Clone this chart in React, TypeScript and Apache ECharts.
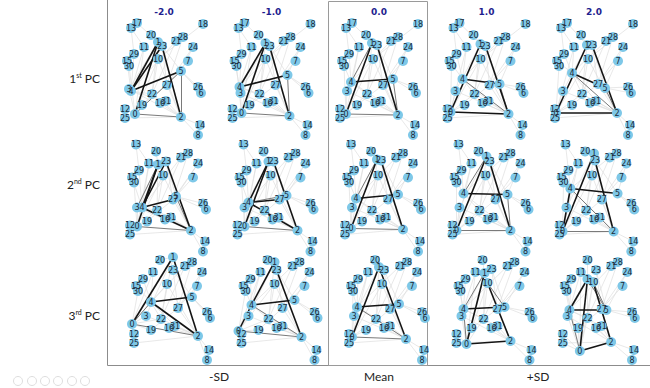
import React, { useEffect, useRef } from "react";
import * as echarts from "echarts";

// ---- data ----
const colTitles = ["-2.0", "-1.0", "0.0", "1.0", "2.0"];
const rowLabels = [["1", "st"], ["2", "nd"], ["3", "rd"]];
const bottomLabels = ["-SD", "Mean", "+SD"];

const nodeIds = [0, 1, 2, 3, 4, 5, 6, 7, 8, 10, 11, 12, 13, 14, 15, 16, 17, 18, 19, 20, 21, 22, 23, 24, 25, 26, 27, 28, 29, 30, 31];
const baseX = [28, 51, 74, 24, 24, 74, 94, 81, 91, 51, 37, 18, 24, 93, 20, 53, 30, 96, 35, 44, 69, 45, 55, 86, 18, 91, 60, 76, 27, 22, 59];
const baseY = [114, 42, 117, 91, 91, 71, 93, 61, 135, 59, 47, 109, 28, 125, 61, 103, 23, 24, 105, 35, 41, 94, 46, 47, 118, 87, 85, 37, 54, 66, 101];

// per panel (row-major): [node, x, y] for nodes that move
const panelMoves = [
  [[0, 28, 114], [1, 51, 42], [2, 74, 117], [3, 22, 89], [4, 24, 91], [5, 74, 71], [23, 55, 46], [27, 60, 85]],
  [[0, 27, 113], [1, 51, 43], [2, 75, 116], [3, 26, 93], [4, 25, 87], [5, 73, 75], [23, 55, 46], [27, 61, 85]],
  [[0, 24, 114], [1, 50, 43], [2, 76, 115], [3, 25, 91], [4, 29, 82], [5, 71, 79], [23, 55, 45], [27, 61, 85]],
  [[0, 21, 112], [1, 51, 44], [2, 79, 114], [3, 26, 91], [4, 33, 79], [5, 70, 84], [23, 56, 46], [27, 60, 85]],
  [[0, 19, 113], [1, 50, 45], [2, 80, 113], [3, 26, 91], [4, 35, 73], [5, 68, 88], [23, 55, 45], [27, 61, 84]],
  [[0, 25, 110], [1, 46, 48], [2, 79, 114], [3, 25, 91], [4, 30, 91], [5, 64, 80], [23, 54, 45], [27, 61, 83]],
  [[0, 25, 110], [1, 49, 45], [2, 78, 114], [3, 25, 91], [4, 29, 86], [5, 67, 79], [23, 54, 45], [27, 60, 83]],
  [[0, 24, 112], [1, 50, 43], [2, 76, 113], [3, 25, 91], [4, 29, 82], [5, 71, 78], [23, 54, 44], [27, 61, 83]],
  [[0, 22, 114], [1, 52, 40], [2, 76, 114], [3, 25, 91], [4, 29, 77], [5, 73, 78], [23, 55, 45], [27, 61, 83]],
  [[0, 21, 115], [1, 53, 37], [2, 73, 115], [3, 25, 91], [4, 29, 72], [5, 77, 77], [23, 54, 44], [27, 61, 83]],
  [[0, 16, 99], [1, 57, 32], [2, 82, 111], [3, 30, 91], [4, 35, 77], [5, 76, 72], [23, 57, 45], [27, 62, 83]],
  [[0, 15, 106], [1, 51, 37], [2, 78, 112], [3, 25, 91], [4, 28, 80], [5, 71, 75], [23, 53, 45], [27, 59, 83]],
  [[0, 21, 112], [1, 48, 42], [2, 75, 114], [3, 23, 91], [4, 26, 82], [5, 68, 79], [23, 53, 45], [27, 59, 84]],
  [[0, 28, 119], [1, 46, 48], [2, 72, 116], [3, 23, 91], [4, 25, 84], [5, 66, 82], [23, 53, 44], [27, 59, 84], [19, 33, 103], [10, 49, 58]],
  [[0, 36, 126], [1, 44, 54], [2, 69, 117], [3, 23, 91], [4, 25, 85], [5, 64, 85], [23, 53, 45], [27, 59, 84], [10, 50, 57], [22, 44, 93], [19, 34, 103]],
];

const lightEdges = [
  [13, 11], [13, 29], [17, 1], [18, 10], [20, 1], [21, 4], [28, 27], [24, 5], [11, 4], [11, 0], [29, 4], [15, 4],
  [30, 0], [10, 22], [10, 2], [7, 27], [23, 5], [23, 27], [1, 3], [4, 22], [4, 31], [3, 0], [12, 0], [25, 0],
  [25, 2], [19, 0], [19, 27], [22, 2], [16, 2], [31, 2], [27, 2], [5, 26], [5, 6], [2, 14], [2, 8], [22, 0],
  [10, 0], [21, 22], [24, 27], [3, 2], [1, 22],
];

const greyEdges = [
  [[0, 5], [0, 2], [5, 2]],
  [[0, 2], [5, 2]],
  [[1, 4], [0, 2], [5, 2]],
  [[4, 2], [5, 2]],
  [[4, 2], [5, 2]],
  [[0, 2], [1, 3], [5, 2]],
  [[0, 2], [4, 5]],
  [[1, 4], [0, 2]],
  [[1, 4], [0, 2], [5, 2]],
  [[4, 2], [0, 2]],
  [[0, 4], [0, 2]],
  [[4, 2], [0, 2]],
  [[0, 2], [4, 2]],
  [[1, 4], [4, 0], [10, 5]],
  [[4, 0], [1, 5], [10, 5]],
];

const blackEdges = [
  [[1, 4], [23, 4], [1, 0], [23, 2], [4, 5]],
  [[1, 4], [1, 0], [23, 2], [4, 5]],
  [[1, 0], [23, 2], [4, 5]],
  [[1, 0], [23, 2], [4, 5], [0, 2]],
  [[1, 0], [23, 2], [4, 5], [0, 2]],
  [[1, 4], [23, 4], [1, 0], [23, 2], [4, 27], [4, 2]],
  [[1, 4], [1, 0], [23, 2], [4, 27], [4, 2]],
  [[1, 0], [23, 2], [4, 5]],
  [[1, 0], [23, 2], [4, 5]],
  [[1, 0], [23, 2], [4, 5], [4, 0]],
  [[1, 0], [1, 2], [4, 5], [4, 2]],
  [[1, 4], [4, 0], [23, 2], [4, 5]],
  [[1, 0], [1, 2], [4, 5]],
  [[1, 0], [10, 2], [4, 5], [0, 2]],
  [[1, 0], [10, 2], [4, 5], [1, 4], [0, 2]],
];

// ---- layout ----
const rowOriginX = [107, 112, 116];
const rowOriginY = [0, 116.5, 225];
const colStep = 107.5;
const clipTop = [0, 25.5, 31];
const clipBottom = [142, 139.5, 140];

export default function App() {
  const ref = useRef<HTMLDivElement>(null);
  useEffect(() => {
    if (!ref.current) return;
    const chart = echarts.init(ref.current, undefined, { renderer: "svg" });
    const grids: any[] = [];
    const xAxes: any[] = [];
    const yAxes: any[] = [];
    const series: any[] = [];
    for (let r = 0; r < 3; r++) {
      for (let c = 0; c < 5; c++) {
        const p = r * 5 + c;
        const ox = rowOriginX[r] + colStep * c;
        const oy = rowOriginY[r];
        grids.push({ left: ox - 5, top: oy + clipTop[r], width: 115, height: clipBottom[r] - clipTop[r] });
        xAxes.push({ type: "value", gridIndex: p, min: -5, max: 110, show: false });
        yAxes.push({ type: "value", gridIndex: p, min: clipTop[r], max: clipBottom[r], inverse: true, show: false });
        const pos: Record<number, [number, number]> = {};
        nodeIds.forEach((id, i) => (pos[id] = [baseX[i], baseY[i]]));
        panelMoves[p].forEach(([id, x, y]) => (pos[id] = [x, y]));
        const visible = (id: number) => pos[id][1] >= clipTop[r];
        const data = nodeIds.filter(visible).map((id) => ({ name: String(id), value: pos[id] }));
        const links: any[] = [];
        const add = (list: number[][], style: any) =>
          list.forEach(([a, b]) => {
            if (visible(a) && visible(b)) links.push({ source: String(a), target: String(b), lineStyle: style });
          });
        add(lightEdges, { color: "#dedede", width: 0.7, opacity: 1 });
        add(greyEdges[p], { color: "#7a7a7a", width: 1, opacity: 1 });
        add(blackEdges[p], { color: "#141414", width: 1.6, opacity: 1 });
        series.push({
          type: "graph",
          coordinateSystem: "cartesian2d",
          xAxisIndex: p,
          yAxisIndex: p,
          symbolSize: 10,
          silent: true,
          itemStyle: { color: "#7ec8e8" },
          label: { show: true, position: "inside", fontSize: 8, color: "#1c2a38", fontFamily: "DejaVu Sans" },
          emphasis: { disabled: true },
          data,
          links,
        });
      }
    }
    const graphic: any[] = [];
    colTitles.forEach((t, c) => {
      graphic.push({
        type: "text",
        x: rowOriginX[0] + colStep * c + 57,
        y: 12,
        style: { text: t, align: "center", verticalAlign: "middle", fontSize: 9, fontWeight: "bold", fill: "#1f1f8f", fontFamily: "DejaVu Sans" },
      });
    });
    const rowLabelY = [78, 184, 315];
    rowLabels.forEach(([n, s], r) => {
      graphic.push({
        type: "text",
        x: 100,
        y: rowLabelY[r],
        style: {
          text: `{a|${n}}{s|${s}}{a| PC}`,
          align: "right",
          verticalAlign: "middle",
          rich: {
            a: { fontSize: 12, fill: "#222", fontFamily: "Lato", lineHeight: 14 },
            s: { fontSize: 7, fill: "#222", fontFamily: "Lato", verticalAlign: "top", lineHeight: 9 },
          },
        },
      });
    });
    const bottomX = [219, 379, 538];
    bottomLabels.forEach((t, i) => {
      graphic.push({
        type: "text",
        x: bottomX[i],
        y: 376,
        style: { text: t, align: "center", verticalAlign: "middle", fontSize: 12, fill: "#222", fontFamily: "Lato" },
      });
    });
    graphic.push({ type: "line", shape: { x1: 107.5, y1: 0, x2: 107.5, y2: 365.5 }, style: { stroke: "#8c8c8c", lineWidth: 1 } });
    graphic.push({ type: "line", shape: { x1: 107.5, y1: 365.5, x2: 650, y2: 365.5 }, style: { stroke: "#8c8c8c", lineWidth: 1 } });
    graphic.push({ type: "rect", shape: { x: 328.5, y: 1.5, width: 99, height: 364 }, style: { fill: "none", stroke: "#9a9a9a", lineWidth: 1 } });
    [18, 32, 45, 58, 72, 85].forEach((cx) => {
      graphic.push({ type: "circle", shape: { cx, cy: 381, r: 4.5 }, style: { fill: "none", stroke: "#dedede", lineWidth: 1 } });
    });
    chart.setOption({
      animation: false,
      grid: grids,
      xAxis: xAxes,
      yAxis: yAxes,
      series,
      graphic,
    });
    return () => chart.dispose();
  }, []);
  return <div ref={ref} style={{ position: "fixed", left: 0, top: 0, width: 650, height: 388, background: "#fff" }} />;
}
